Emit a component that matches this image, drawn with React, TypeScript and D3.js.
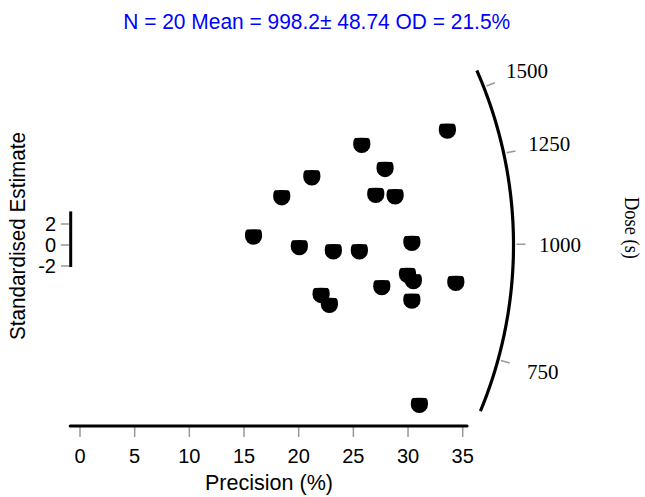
import React from "react";
import * as d3 from "d3";

// Radial plot of equivalent doses: precision vs standardised estimate
const precision = [
  15.87, 18.45, 20.06, 21.2, 22.05, 22.81, 23.17, 25.55, 25.77, 27.05,
  27.6, 27.9, 28.82, 29.95, 30.35, 30.49, 30.35, 31.04, 33.6, 34.37,
];
const standardised = [
  0.71, 4.45, -0.31, 6.35, -4.86, -5.81, -0.7, -0.7, 9.43, 4.67,
  -4.12, 7.14, 4.54, -2.95, 0.1, -3.55, -5.4, -15.33, 10.79, -3.71,
];
const xTicks = [0, 5, 10, 15, 20, 25, 30, 35];
const yTicks = [-2, 0, 2];
const doseTicks = [750, 1000, 1250, 1500];
const meanDose = 998.2;
const doseRange = [648, 1578];
const yBarRange = [-2.1, 3.2];
const xLineRange = [-0.9, 35.4];

const W = 645;
const H = 497;
const SANS = "'Liberation Sans', Arial, sans-serif";
const SERIF = "'Liberation Serif', 'Times New Roman', serif";

const x = d3.scaleLinear().domain([0, 35]).range([80, 462.7]);
const y = d3.scaleLinear().domain([-2, 2]).range([266, 224]);
const ox = x(0);
const oy = y(0);
const R = 433.5;

// angle (pixel space, counter-clockwise from +x) of the ray for a dose value
function angleOf(v: number): number {
  const m = Math.log(v / meanDose);
  return Math.atan2(oy - y(m), x(1) - x(0));
}
function polar(theta: number, r: number): [number, number] {
  return [ox + r * Math.cos(theta), oy - r * Math.sin(theta)];
}

// flat-topped filled marker
const markerPath =
  "M -6.5,-8 Q 0,-8.6 6.5,-8 Q 8.6,-7.4 8.6,-1.5 A 8.6 8.6 0 0 1 -8.6,-1.5 Q -8.6,-7.4 -6.5,-8 Z";

export default function App() {
  const a0 = angleOf(doseRange[0]);
  const a1 = angleOf(doseRange[1]);
  const arcPts = d3.range(0, 1.0001, 0.005).map((t) => polar(a0 + (a1 - a0) * t, R));
  const arcPath = d3.line()(arcPts) || "";

  return (
    <div style={{ position: "absolute", left: 0, top: 0 }}>
      <svg width={W} height={H} style={{ display: "block", background: "#fff" }}>
        <text
          x={316.7}
          y={29}
          textAnchor="middle"
          fontFamily={SANS}
          fontSize={22}
          fill="#0000ff"
          textLength={387}
          lengthAdjust="spacingAndGlyphs"
        >
          N = 20 Mean = 998.2± 48.74 OD = 21.5%
        </text>

        {/* precision axis */}
        {xTicks.map((t) => (
          <g key={t}>
            <line x1={x(t)} x2={x(t)} y1={427} y2={437} stroke="#999" strokeWidth={1.5} />
            <text
              x={x(t)}
              y={462.5}
              textAnchor="middle"
              fontFamily={SANS}
              fontSize={20}
              fill="#000"
            >
              {t}
            </text>
          </g>
        ))}
        <line
          x1={x(xLineRange[0])}
          x2={x(xLineRange[1])}
          y1={426}
          y2={426}
          stroke="#000"
          strokeWidth={3}
          strokeLinecap="round"
        />
        <text
          x={269}
          y={490}
          textAnchor="middle"
          fontFamily={SANS}
          fontSize={22}
          textLength={128}
          lengthAdjust="spacingAndGlyphs"
        >
          Precision (%)
        </text>

        {/* standardised estimate axis */}
        {yTicks.map((t) => (
          <g key={t}>
            <line x1={61} x2={69} y1={y(t)} y2={y(t)} stroke="#999" strokeWidth={1.5} />
            <text
              x={56}
              y={y(t)}
              dy="0.36em"
              textAnchor="end"
              fontFamily={SANS}
              fontSize={20}
            >
              {t}
            </text>
          </g>
        ))}
        <line
          x1={70.7}
          x2={70.7}
          y1={y(yBarRange[1])}
          y2={y(yBarRange[0])}
          stroke="#000"
          strokeWidth={3}
        />
        <text
          transform="translate(25,236) rotate(-90)"
          textAnchor="middle"
          fontFamily={SANS}
          fontSize={22}
          textLength={208}
          lengthAdjust="spacingAndGlyphs"
        >
          Standardised Estimate
        </text>

        {/* dose arc */}
        <path d={arcPath} fill="none" stroke="#000" strokeWidth={3.2} />
        {doseTicks.map((v) => {
          const th = angleOf(v);
          const [x1, y1] = polar(th, 436.5);
          const [x2, y2] = polar(th, 445.5);
          const [lx, ly] = polar(th, 480);
          return (
            <g key={v}>
              <line x1={x1} y1={y1} x2={x2} y2={y2} stroke="#999" strokeWidth={1.5} />
              <text
                x={lx}
                y={ly}
                dy="0.35em"
                textAnchor="middle"
                fontFamily={SERIF}
                fontSize={21}
              >
                {v}
              </text>
            </g>
          );
        })}
        <text
          transform="translate(625,228) rotate(90)"
          textAnchor="middle"
          fontFamily={SERIF}
          fontSize={20}
          textLength={62}
          lengthAdjust="spacingAndGlyphs"
        >
          Dose (s)
        </text>

        {/* data points */}
        {precision.map((p, i) => (
          <path
            key={i}
            d={markerPath}
            transform={`translate(${x(p)},${y(standardised[i])})`}
            fill="#000"
          />
        ))}
      </svg>
    </div>
  );
}
